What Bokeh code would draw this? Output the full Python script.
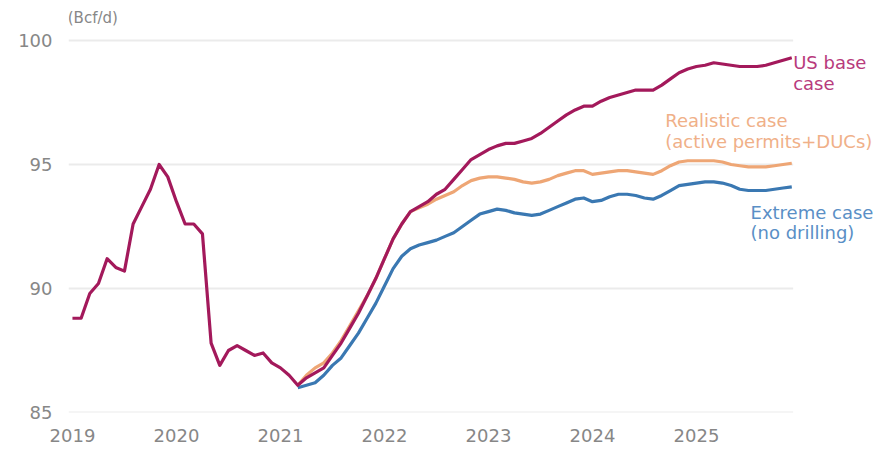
from bokeh.plotting import figure
from bokeh.models import FixedTicker, Label, Range1d
from bokeh.embed import file_html
from bokeh.resources import INLINE

# Monthly values, Jan 2019 = month 0 ... Dec 2025 = month 83 (Bcf/d)
base_values = [
    88.8, 88.8, 89.8, 90.2, 91.2, 90.85, 90.7, 92.6, 93.3, 94.0, 95.0, 94.5,   # 2019
    93.5, 92.6, 92.6, 92.2, 87.8, 86.9, 87.5, 87.7, 87.5, 87.3, 87.4, 87.0,    # 2020
    86.8, 86.5, 86.1, 86.4, 86.6, 86.8, 87.3, 87.8, 88.4, 89.0, 89.7, 90.4,    # 2021
    91.2, 92.0, 92.6, 93.1, 93.3, 93.5, 93.8, 94.0, 94.4, 94.8, 95.2, 95.4,    # 2022
    95.6, 95.75, 95.85, 95.85, 95.95, 96.05, 96.25, 96.5, 96.75, 97.0, 97.2, 97.35,  # 2023
    97.35, 97.55, 97.7, 97.8, 97.9, 98.0, 98.0, 98.0, 98.2, 98.45, 98.7, 98.85,      # 2024
    98.95, 99.0, 99.1, 99.05, 99.0, 98.95, 98.95, 98.95, 99.0, 99.1, 99.2, 99.3,     # 2025
]

# Scenario values start at month 26 (Mar 2021)
scenario_start = 26
realistic_values = [
    86.1, 86.5, 86.8, 87.0, 87.4, 87.9, 88.5, 89.1, 89.7, 90.4,
    91.2, 92.0, 92.6, 93.1, 93.25, 93.4, 93.6, 93.75, 93.9, 94.15, 94.35, 94.45,
    94.5, 94.5, 94.45, 94.4, 94.3, 94.25, 94.3, 94.4, 94.55, 94.65, 94.75, 94.75,
    94.6, 94.65, 94.7, 94.75, 94.75, 94.7, 94.65, 94.6, 94.75, 94.95, 95.1, 95.15,
    95.15, 95.15, 95.15, 95.1, 95.0, 94.95, 94.9, 94.9, 94.9, 94.95, 95.0, 95.05,
]
extreme_values = [
    86.0, 86.1, 86.2, 86.5, 86.9, 87.2, 87.7, 88.2, 88.8, 89.4,
    90.1, 90.8, 91.3, 91.6, 91.75, 91.85, 91.95, 92.1, 92.25, 92.5, 92.75, 93.0,
    93.1, 93.2, 93.15, 93.05, 93.0, 92.95, 93.0, 93.15, 93.3, 93.45, 93.6, 93.65,
    93.5, 93.55, 93.7, 93.8, 93.8, 93.75, 93.65, 93.6, 93.75, 93.95, 94.15, 94.2,
    94.25, 94.3, 94.3, 94.25, 94.15, 94.0, 93.95, 93.95, 93.95, 94.0, 94.05, 94.1,
]

year_ticks = [2019, 2020, 2021, 2022, 2023, 2024, 2025]
year_labels = ["2019", "2020", "2021", "2022", "2023", "2024", "2025"]
y_ticks = [85, 90, 95, 100]
unit_label = "(Bcf/d)"

base_t = [2019 + m / 12 for m in range(len(base_values))]
real_t = [2019 + (scenario_start + i) / 12 for i in range(len(realistic_values))]
ext_t = [2019 + (scenario_start + i) / 12 for i in range(len(extreme_values))]

BASE_C = "#a3195b"
REAL_C = "#eea675"
EXT_C = "#3a78b2"
GRAY = "#878787"
FONT = "DejaVu Sans"

X0, X1 = 2018.962, 2026.741
p = figure(width=877, height=446, output_backend="svg", toolbar_location=None,
           x_range=Range1d(X0, X1), y_range=Range1d(85, 101.45),
           min_border_left=68, min_border_right=0, min_border_top=4, min_border_bottom=34)
p.outline_line_color = None
p.background_fill_color = "white"
p.border_fill_color = "white"
p.xgrid.grid_line_color = None
p.ygrid.grid_line_color = None

# horizontal gridlines, ending where the series end
p.segment(x0=[X0] * len(y_ticks), x1=[2025.93] * len(y_ticks), y0=y_ticks, y1=y_ticks,
          line_color="#ebebeb", line_width=2)

p.yaxis.ticker = FixedTicker(ticks=y_ticks)
p.yaxis.axis_line_color = None
p.yaxis.major_tick_line_color = None
p.yaxis.minor_tick_line_color = None
p.yaxis.major_label_text_color = GRAY
p.yaxis.major_label_text_font = FONT
p.yaxis.major_label_text_font_size = "18px"
p.yaxis.major_label_standoff = 10

p.xaxis.ticker = FixedTicker(ticks=year_ticks)
p.xaxis.major_label_overrides = {t: l for t, l in zip(year_ticks, year_labels)}
p.xaxis.axis_line_color = None
p.xaxis.major_tick_line_color = None
p.xaxis.minor_tick_line_color = None
p.xaxis.major_label_text_color = GRAY
p.xaxis.major_label_text_font = FONT
p.xaxis.major_label_text_font_size = "18px"
p.xaxis.major_label_standoff = 10

p.line(ext_t, extreme_values, line_color=EXT_C, line_width=3.2, line_join="round")
p.line(real_t, realistic_values, line_color=REAL_C, line_width=3.2, line_join="round")
p.line(base_t, base_values, line_color=BASE_C, line_width=3.2, line_join="round")

def add_label(x, y, text, color, size="18px"):
    p.add_layout(Label(x=x, y=y, text=text, text_color=color, text_font=FONT,
                       text_font_size=size, text_align="left", text_baseline="middle"))

add_label(2025.93, 99.11, "US base", "#b83a7c")
add_label(2025.93, 98.27, "case", "#b83a7c")
add_label(2024.70, 96.77, "Realistic case", "#f0b088")
add_label(2024.70, 95.93, "(active permits+DUCs)", "#f0b088")
add_label(2025.52, 93.06, "Extreme case", "#5a8fc6")
add_label(2025.52, 92.26, "(no drilling)", "#5a8fc6")
add_label(2018.955, 100.89, unit_label, GRAY, size="15px")

open("out.html", "w").write(file_html(p, INLINE))
